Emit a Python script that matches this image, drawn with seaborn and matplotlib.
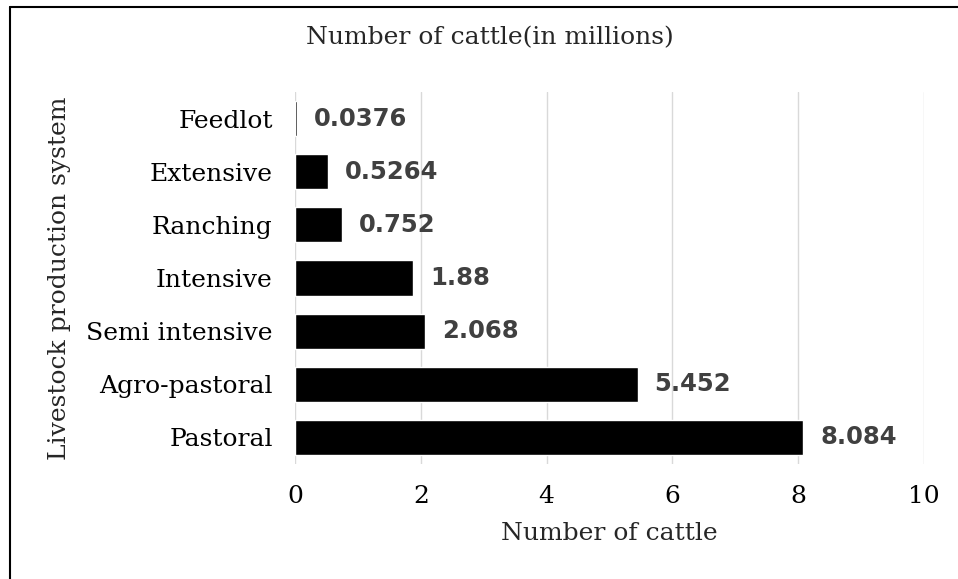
# Gráfico de barras horizontales: número de cattle por sistema de producción
import pandas as pd
import matplotlib.pyplot as plt
import seaborn as sns
from matplotlib.lines import Line2D

# ---------------- DATOS ---------------- #
systems = ["Feedlot", "Extensive", "Ranching", "Intensive",
           "Semi intensive", "Agro-pastoral", "Pastoral"]
cattle = [0.0376, 0.5264, 0.752, 1.88, 2.068, 5.452, 8.084]
value_labels = ["0.0376", "0.5264", "0.752", "1.88", "2.068", "5.452", "8.084"]
x_ticks = [0, 2, 4, 6, 8, 10]

df = pd.DataFrame({"System": systems, "Cattle": cattle})

# ---------------- ESTILO ---------------- #
sns.set_style("white")
plt.rcParams["font.family"] = ["DejaVu Serif"]

W, H = 958, 579
fig = plt.figure(figsize=(W / 100, H / 100), dpi=100)
ax = fig.add_axes([295 / W, 1 - 464 / H, 629 / W, 372 / H])

sns.barplot(data=df, x="Cattle", y="System", orient="h", color="black",
            width=0.66, saturation=1, ax=ax, zorder=3)

# etiquetas de valores
ax.bar_label(ax.containers[0], labels=value_labels, padding=12,
             fontsize=17.5, fontweight="bold", color="#404040",
             family="DejaVu Sans")

# ejes y grilla
ax.set_xlim(0, 10)
ax.set_xticks(x_ticks)
ax.grid(axis="x", color="#d9d9d9", linewidth=1.0, zorder=0)
ax.grid(axis="y", visible=False)
for s in ax.spines.values():
    s.set_visible(False)
ax.tick_params(axis="both", length=0, labelsize=18, colors="black")
ax.tick_params(axis="y", pad=16)
ax.tick_params(axis="x", pad=15)

ax.set_xlabel("Number of cattle", fontsize=18, labelpad=10)
ax.set_ylabel("Livestock production system", fontsize=18)
ax.yaxis.set_label_coords(-0.356, 0.5)

# título centrado en el área del gráfico
fig.text(490 / W, 1 - 38 / H, "Number of cattle(in millions)",
         ha="center", va="center", fontsize=18)

# borde del gráfico (solo arriba e izquierda visibles)
fig.add_artist(Line2D([10 / W, 1], [1 - 7 / H, 1 - 7 / H], color="black",
                      linewidth=1.5, transform=fig.transFigure))
fig.add_artist(Line2D([10 / W, 10 / W], [0, 1 - 7 / H], color="black",
                      linewidth=1.5, transform=fig.transFigure))

plt.savefig("out.png", dpi=100)
plt.close()
